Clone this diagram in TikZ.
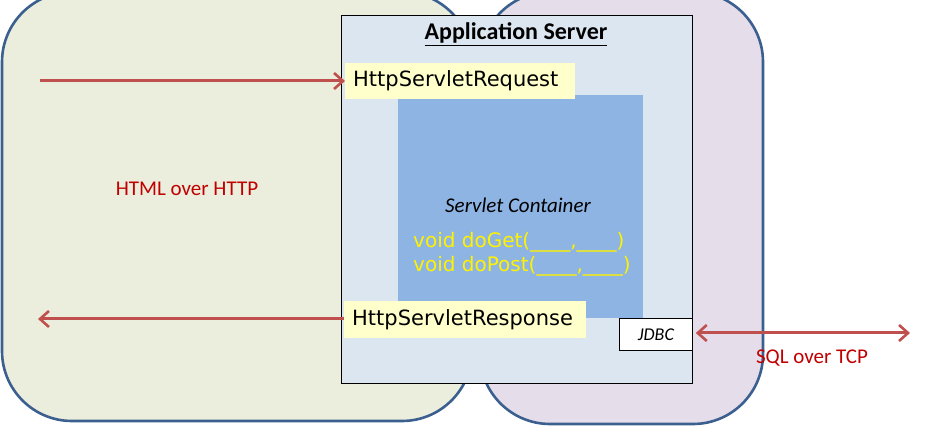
\documentclass[tikz,border=0pt]{standalone}
\usepackage{fontspec}
\setmainfont{Carlito}
\newfontfamily\comicfont{DejaVu Sans}
\usetikzlibrary{arrows.meta}
\definecolor{clientgreen}{HTML}{EBEEDD}
\definecolor{dbpurple}{HTML}{E6DDEA}
\definecolor{edgeblue}{HTML}{3B5F8F}
\definecolor{serverblue}{HTML}{DCE6F1}
\definecolor{containerblue}{HTML}{8EB4E3}
\definecolor{notepaper}{HTML}{FFFFCC}
\definecolor{arrowred}{HTML}{C0504D}
\definecolor{labelred}{HTML}{C00000}
\tikzset{
  zone/.style={draw=edgeblue,line width=2.6pt,rounded corners=70pt},
  objbox/.style={fill=notepaper,inner sep=0pt,anchor=north west,font=\comicfont\fontsize{21}{24}\selectfont},
  barb/.tip={Straight Barb[length=9pt,width=16pt,line width=2.6pt]},
  flow/.style={draw=arrowred,line width=3pt,-barb},
  proto/.style={text=labelred,font=\fontsize{21}{25}\selectfont}
}
\begin{document}
\begin{tikzpicture}[x=1pt,y=-1pt]
  \useasboundingbox (0,0) rectangle (930,430);
  \clip (0,0) rectangle (930,430);
  % client and database zones
  \path[zone,fill=clientgreen] (2,-8) rectangle (472,421);
  \path[zone,fill=dbpurple] (480,-8) rectangle (763,424);
  % application server
  \node (srv) at (341,15) [draw=black,fill=serverblue,line width=0.8pt,anchor=north west,
        minimum width=351pt,minimum height=368pt,inner sep=0pt] {};
  \node (srvtitle) at (516,34) {\fontsize{24}{28}\selectfont\bfseries\underline{Application Server}};
  \node (cont) at (398,95) [fill=containerblue,anchor=north west,minimum width=245pt,
        minimum height=223pt,inner sep=0pt] {};
  \node (conttitle) at (518,205) {\fontsize{21}{25}\selectfont\itshape Servlet Container};
  \node (methods) at (413,254) [anchor=west,align=left,text=yellow,inner sep=0pt,
        font=\comicfont\fontsize{20}{24}\selectfont] {void doGet(\_\_\_\_,\_\_\_\_)\\void doPost(\_\_\_\_,\_\_\_\_)};
  \node (req) at (345,63) [objbox,minimum width=230pt,minimum height=36pt,text width=230pt] {\hspace{8pt}HttpServletRequest};
  \node (resp) at (344,301) [objbox,minimum width=242pt,minimum height=37pt,text width=242pt] {\hspace{8pt}HttpServletResponse};
  \node (jdbc) at (619,318) [draw=black,fill=white,line width=0.8pt,anchor=north west,
        minimum width=73pt,minimum height=32pt,inner sep=0pt,font=\fontsize{18}{20}\selectfont\itshape] {JDBC};
  % protocols
  \coordinate (browserin) at (40,81);
  \coordinate (browserout) at (38,319);
  \coordinate (database) at (910,333);
  \draw[flow] (browserin) -- (req.west |- browserin);
  \draw[flow] (resp.west |- browserout) -- (browserout);
  \draw[flow,barb-barb] ([xshift=3pt]jdbc.east |- database) -- (database);
  \node (http) at (187,189) [proto] {HTML over HTTP};
  \node (tcp) at (812,358) [proto] {SQL over TCP};
\end{tikzpicture}
\end{document}
